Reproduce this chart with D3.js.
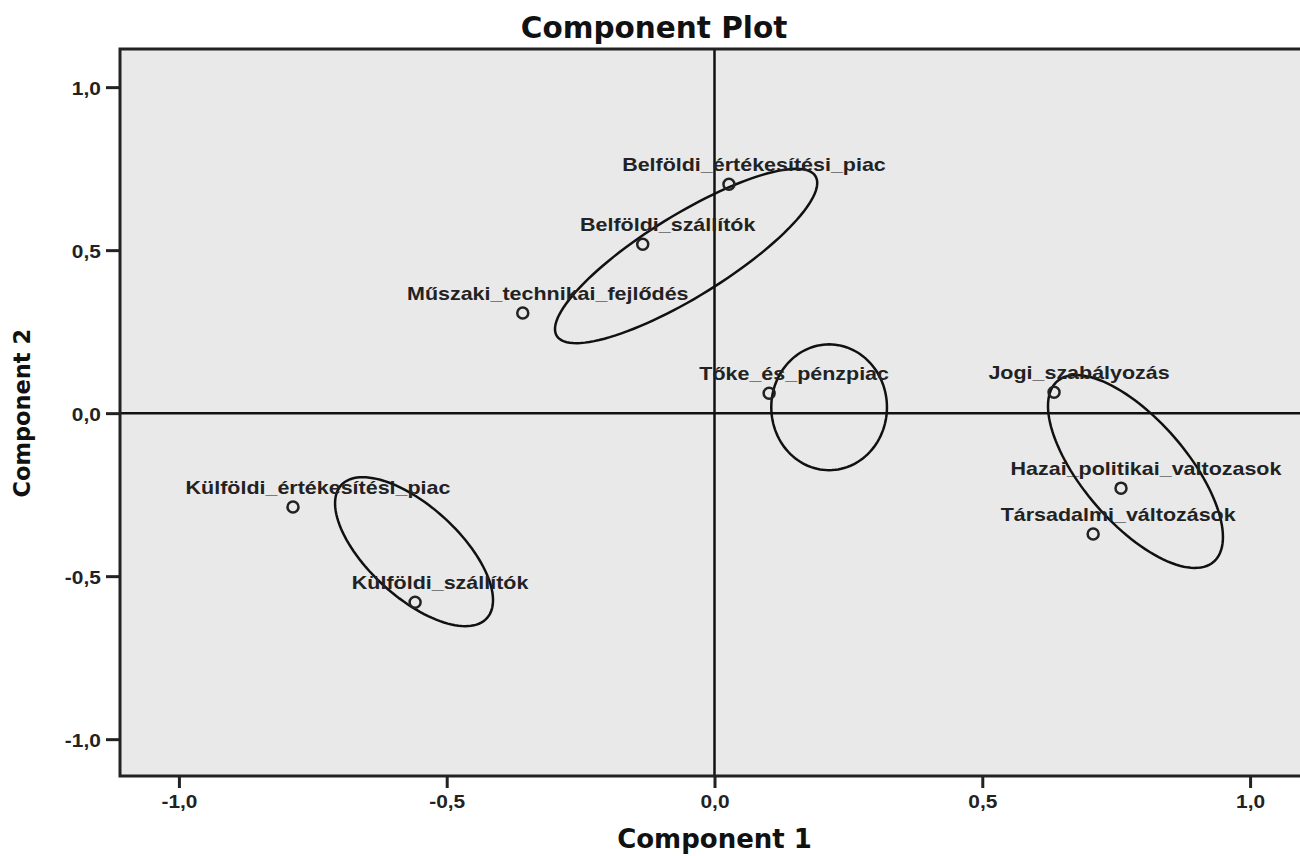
<!DOCTYPE html>
<html>
<head>
<meta charset="utf-8">
<script src="https://cdnjs.cloudflare.com/ajax/libs/d3/7.8.5/d3.min.js"></script>
<style>
  html, body { margin: 0; padding: 0; background: #fff; }
  svg { display: block; }
</style>
</head>
<body>
<svg id="chart" width="1300" height="856"></svg>
<script>
// ---- data ----
const labels = [
  "Belföldi_értékesítési_piac",
  "Belföldi_szállítók",
  "Műszaki_technikai_fejlődés",
  "Tőke_és_pénzpiac",
  "Jogi_szabályozás",
  "Hazai_politikai_valtozasok",
  "Társadalmi_változások",
  "Külföldi_értékesítési_piac",
  "Külföldi_szállítók"
];
const comp1 = [0.027, -0.134, -0.358, 0.102, 0.634, 0.759, 0.707, -0.787, -0.559];
const comp2 = [0.702, 0.518, 0.307, 0.061, 0.064, -0.230, -0.371, -0.288, -0.580];

// ellipses: centre and two conjugate semi-axis vectors, in component units
const ellCx = [-0.053, 0.214, 0.786, -0.561];
const ellCy = [0.482, 0.018, -0.179, -0.425];
const ellU  = [[0.2415, 0.245], [0.108, 0], [0.146, -0.277], [0.136, -0.204]];
const ellV  = [[0.0402, -0.107], [0, 0.193], [0.0732, 0.104], [0.057, 0.103]];

const xTicks = [-1.0, -0.5, 0.0, 0.5, 1.0];
const yTicks = [-1.0, -0.5, 0.0, 0.5, 1.0];

const title = "Component Plot";
const xTitle = "Component 1";
const yTitle = "Component 2";

// ---- layout ----
(function () {
const svg = d3.select("#chart");
const pL = 120, pT = 49, pB = 776, pR = 1309;
const x = d3.scaleLinear().domain([-1.11, 1.11]).range([pL, pR]);
const y = d3.scaleLinear().domain([-1.113, 1.117]).range([pB, pT]);
const fmt = d => d3.format(".1f")(d).replace(".", ",").replace("−", "-");
const sansA = "'Liberation Sans', Arial, sans-serif";
const sansV = "'DejaVu Sans', Verdana, sans-serif";
const stretch = 1.13;

svg.append("rect")
  .attr("x", pL).attr("y", pT)
  .attr("width", pR - pL).attr("height", pB - pT)
  .attr("fill", "#e9e9e9");

// reference lines
svg.append("line").attr("x1", x(0)).attr("x2", x(0)).attr("y1", pT).attr("y2", pB)
  .attr("stroke", "#111").attr("stroke-width", 2.5);
svg.append("line").attr("x1", pL).attr("x2", pR).attr("y1", y(0)).attr("y2", y(0))
  .attr("stroke", "#111").attr("stroke-width", 2.5);

// frame lines (top, left, bottom)
svg.append("path")
  .attr("d", `M${pR},${pT}H${pL}V${pB}H${pR}`)
  .attr("fill", "none").attr("stroke", "#222").attr("stroke-width", 3);

// axes
const xAxis = d3.axisBottom(x).tickValues(xTicks).tickFormat(fmt).tickSize(12).tickSizeOuter(0).tickPadding(4);
const gx = svg.append("g").attr("transform", `translate(0,${pB})`).call(xAxis);
const yAxis = d3.axisLeft(y).tickValues(yTicks).tickFormat(fmt).tickSize(14).tickSizeOuter(0).tickPadding(3);
const gy = svg.append("g").attr("transform", `translate(${pL},0)`).call(yAxis);
[gx, gy].forEach(g => {
  g.select(".domain").remove();
  g.selectAll(".tick line").attr("stroke", "#222").attr("stroke-width", 3);
  g.selectAll(".tick text")
    .attr("font-family", sansA)
    .attr("font-weight", "bold")
    .attr("font-size", 18.5)
    .attr("fill", "#222")
    .attr("transform", `scale(${stretch},1)`);
});
gx.selectAll(".tick text").attr("dy", "0.85em");
gy.selectAll(".tick text").attr("dy", "0.4em");

// ellipses
const line = d3.line().x(d => x(d[0])).y(d => y(d[1]));
const ts = d3.range(0, 361, 3).map(a => a * Math.PI / 180);
ellCx.forEach((cx, i) => {
  const pts = ts.map(t => [
    cx + ellU[i][0] * Math.cos(t) + ellV[i][0] * Math.sin(t),
    ellCy[i] + ellU[i][1] * Math.cos(t) + ellV[i][1] * Math.sin(t)
  ]);
  svg.append("path").attr("d", line(pts) + "Z")
    .attr("fill", "none").attr("stroke", "#111").attr("stroke-width", 2.5);
});

// points
const pts = labels.map((l, i) => ({ l, c1: comp1[i], c2: comp2[i] }));
svg.selectAll("circle.pt").data(pts).enter().append("circle")
  .attr("class", "pt")
  .attr("cx", d => x(d.c1)).attr("cy", d => y(d.c2)).attr("r", 5.5)
  .attr("fill", "none").attr("stroke", "#222").attr("stroke-width", 2.5);

svg.selectAll("text.lab").data(pts).enter().append("text")
  .attr("class", "lab")
  .attr("transform", d => `translate(${x(d.c1) + 25},${y(d.c2) - 13}) scale(${stretch},1)`)
  .attr("text-anchor", "middle")
  .attr("font-family", sansA)
  .attr("font-weight", "bold")
  .attr("font-size", 19)
  .attr("fill", "#222")
  .text(d => d.l);

// titles
svg.append("text").attr("x", 654).attr("y", 38).attr("text-anchor", "middle")
  .attr("font-family", sansV).attr("font-weight", "bold")
  .attr("font-size", 29.5).attr("fill", "#111").text(title);
svg.append("text").attr("x", x(0)).attr("y", 848).attr("text-anchor", "middle")
  .attr("font-family", sansV).attr("font-weight", "bold")
  .attr("font-size", 26).attr("fill", "#111").text(xTitle);
svg.append("text").attr("transform", `translate(30,${y(0)}) rotate(-90)`).attr("text-anchor", "middle")
  .attr("font-family", sansV).attr("font-weight", "bold")
  .attr("font-size", 22.5).attr("fill", "#111").text(yTitle);
})();
</script>
</body>
</html>
